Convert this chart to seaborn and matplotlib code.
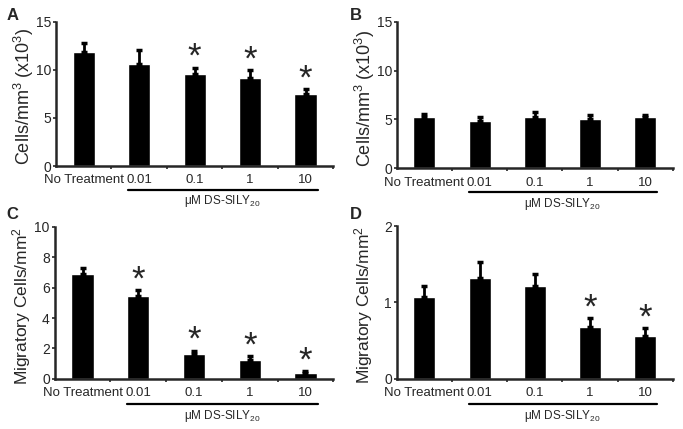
import numpy as np
import pandas as pd
import matplotlib
matplotlib.use("Agg")
import matplotlib.pyplot as plt
import seaborn as sns

sns.set_style("ticks")
plt.rcParams['font.family'] = ['Liberation Sans', 'DejaVu Sans']
plt.rcParams['mathtext.fontset'] = 'custom'
plt.rcParams['mathtext.rm'] = 'Liberation Sans'
plt.rcParams['mathtext.it'] = 'Liberation Sans:italic'
plt.rcParams['mathtext.default'] = 'regular'

groups = ["No Treatment", "0.01", "0.1", "1", "10"]

# panel A: cells/mm3 (x10^3)
a_mean = [11.9, 10.6, 9.6, 9.2, 7.5]
a_err = [0.95, 1.5, 0.65, 0.75, 0.5]
a_star = [False, False, True, True, True]

# panel B
b_mean = [5.2, 4.85, 5.25, 5.0, 5.2]
b_err = [0.4, 0.35, 0.5, 0.5, 0.3]
b_star = [False, False, False, False, False]

# panel C: migratory cells/mm2
c_mean = [6.9, 5.48, 1.62, 1.27, 0.35]
c_err = [0.4, 0.37, 0.24, 0.21, 0.15]
c_star = [False, True, True, True, True]

# panel D
d_mean = [1.065, 1.32, 1.21, 0.68, 0.557]
d_err = [0.145, 0.21, 0.16, 0.11, 0.11]
d_star = [False, False, False, True, True]

fig = plt.figure(figsize=(6.83, 4.29), dpi=100)

panels = [
    ("A", a_mean, a_err, a_star, 15, [0, 5, 10, 15], "Cells/mm$^3$ (x10$^3$)",
     [0.082, 0.613, 0.406, 0.336], -0.072, 13, (0.01, 0.965)),
    ("B", b_mean, b_err, b_star, 15, [0, 5, 10, 15], "Cells/mm$^3$ (x10$^3$)",
     [0.581, 0.608, 0.404, 0.341], -0.072, 13, (0.512, 0.965)),
    ("C", c_mean, c_err, c_star, 10, [0, 2, 4, 6, 8, 10], "Migratory Cells/mm$^2$",
     [0.080, 0.117, 0.408, 0.354], -0.079, 12.5, (0.01, 0.499)),
    ("D", d_mean, d_err, d_star, 2, [0, 1, 2], "Migratory Cells/mm$^2$",
     [0.581, 0.117, 0.404, 0.356], -0.08, 12.5, (0.512, 0.499)),
]

for letter, mean, err, star, ymax, yt, ylab, pos, labx, labsize, letpos in panels:
    ax = fig.add_axes(pos)
    df = pd.DataFrame({"group": groups, "value": mean})
    sns.barplot(data=df, x="group", y="value", color="black", width=0.4,
                saturation=1, ax=ax, errorbar=None)
    x = np.arange(len(groups))
    ax.errorbar(x, mean, yerr=[np.zeros(len(err)), err], fmt="none",
                ecolor="black", elinewidth=2, capsize=2.5, capthick=2.5)
    for i in range(len(groups)):
        if star[i]:
            ax.annotate("*", (x[i], mean[i] + err[i]), xytext=(0, -4.5),
                        textcoords="offset points", ha="center", va="bottom",
                        fontsize=25)
    ax.set_xlim(-0.5, 4.5)
    ax.set_ylim(0, ymax)
    ax.set_yticks(yt)
    ax.set_xticks(x)
    ax.set_xticklabels(groups, fontsize=9.5)
    ax.tick_params(axis="x", which="major", length=0, pad=6)
    ax.set_xticks(np.arange(0.5, 5, 1), minor=True)
    ax.tick_params(axis="x", which="minor", length=2.5, width=1.2)
    ax.tick_params(axis="y", labelsize=10, length=2.5, width=1.2, pad=1)
    ax.set_xlabel("")
    ax.set_ylabel(ylab, fontsize=labsize)
    ax.yaxis.set_label_coords(labx, 0.48)
    sns.despine(ax=ax)
    for s in ["left", "bottom"]:
        ax.spines[s].set_linewidth(1.8)
    # underline bar for DS-SILY20 treatments
    ax.plot([0.8, 4.22], [-0.165, -0.165], transform=ax.get_xaxis_transform(),
            color="black", lw=1.6, clip_on=False)
    ax.text(2.5, -0.19, "μM DS-SILY$_{20}$", transform=ax.get_xaxis_transform(),
            ha="center", va="top", fontsize=8.5)
    fig.text(letpos[0], letpos[1], letter, fontsize=12, fontweight="bold",
             ha="left", va="center")

fig.savefig("out.png", dpi=100)
